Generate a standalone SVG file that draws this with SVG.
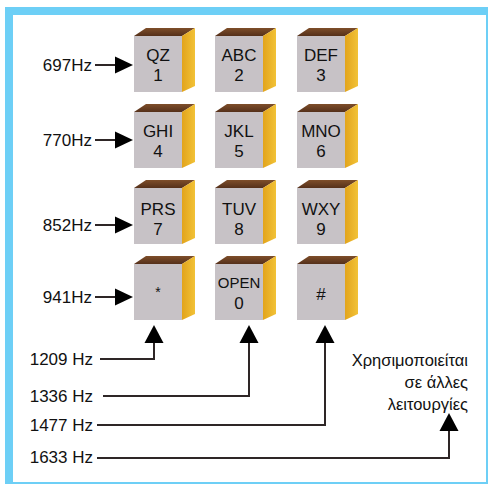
<svg xmlns="http://www.w3.org/2000/svg" xmlns:xlink="http://www.w3.org/1999/xlink" width="488" height="484" viewBox="0 0 488 484">
<style>
.lbl{font-family:"Liberation Sans",Arial,sans-serif;font-size:17px;fill:#111;text-anchor:end}
.key{font-family:"Liberation Sans",Arial,sans-serif;font-size:17px;fill:#111;text-anchor:middle}
.gr{font-family:"Liberation Sans","DejaVu Sans",Arial,sans-serif;font-size:16.5px;fill:#111;text-anchor:end}
.ln{fill:none;stroke:#2e2626;stroke-width:2}
.ah{fill:#000}
</style>
<defs>
<linearGradient id="side" x1="0" y1="0" x2="1" y2="0">
<stop offset="0" stop-color="#E2A41C"/>
<stop offset="1" stop-color="#F2C237"/>
</linearGradient>
<linearGradient id="top" x1="0" y1="1" x2="0" y2="0">
<stop offset="0" stop-color="#55301A"/>
<stop offset="1" stop-color="#7E4E2A"/>
</linearGradient>
<g id="cube">
<polygon points="0,0 12,-8 61,-8 48,0" fill="url(#top)"/>
<polygon points="48,0 61,-8 61,50 48,56" fill="url(#side)"/>
<rect x="0" y="0" width="48" height="56" fill="#C7C2C6"/>
</g>
<polygon id="ar" points="0,0 -18,-8.5 -18,8.5"/>
<polygon id="au" points="0,0 -9.5,18 9.5,18"/>
</defs>
<rect x="5" y="7" width="483" height="477" fill="#6DCFF6"/>
<rect x="13" y="15" width="473" height="467" fill="#FFFFFF"/>

<g id="key1"><use xlink:href="#cube" x="134" y="36"/><text class="key" x="158" y="61">QZ</text><text class="key" x="158" y="81">1</text></g>
<g id="key2"><use xlink:href="#cube" x="215" y="36"/><text class="key" x="239" y="61">ABC</text><text class="key" x="239" y="81">2</text></g>
<g id="key3"><use xlink:href="#cube" x="297" y="36"/><text class="key" x="321" y="61">DEF</text><text class="key" x="321" y="81">3</text></g>
<g id="key4"><use xlink:href="#cube" x="134" y="112"/><text class="key" x="158" y="137">GHI</text><text class="key" x="158" y="157">4</text></g>
<g id="key5"><use xlink:href="#cube" x="215" y="112"/><text class="key" x="239" y="137">JKL</text><text class="key" x="239" y="157">5</text></g>
<g id="key6"><use xlink:href="#cube" x="297" y="112"/><text class="key" x="321" y="137">MNO</text><text class="key" x="321" y="157">6</text></g>
<g id="key7"><use xlink:href="#cube" x="134" y="188"/><text class="key" x="158" y="215">PRS</text><text class="key" x="158" y="235">7</text></g>
<g id="key8"><use xlink:href="#cube" x="215" y="188"/><text class="key" x="239" y="215">TUV</text><text class="key" x="239" y="235">8</text></g>
<g id="key9"><use xlink:href="#cube" x="297" y="188"/><text class="key" x="321" y="215">WXY</text><text class="key" x="321" y="235">9</text></g>
<g id="keystar"><use xlink:href="#cube" x="134" y="264"/><text class="key" x="158" y="297" style="font-size:14px">*</text></g>
<g id="key0"><use xlink:href="#cube" x="215" y="264"/><text class="key" x="239" y="288" style="font-size:15px">OPEN</text><text class="key" x="239" y="309">0</text></g>
<g id="keyhash"><use xlink:href="#cube" x="297" y="264"/><text class="key" x="321" y="300">#</text></g>

<g id="row-labels">
<text class="lbl" x="92" y="71">697Hz</text>
<text class="lbl" x="92" y="146">770Hz</text>
<text class="lbl" x="92" y="231">852Hz</text>
<text class="lbl" x="92" y="303">941Hz</text>
</g>
<g id="col-labels">
<text class="lbl" x="93" y="365">1209 Hz</text>
<text class="lbl" x="93" y="402">1336 Hz</text>
<text class="lbl" x="93" y="431">1477 Hz</text>
<text class="lbl" x="93" y="463">1633 Hz</text>
</g>
<g id="note">
<text class="gr" x="468" y="366">Χρησιμοποιείται</text>
<text class="gr" x="468" y="388">σε άλλες</text>
<text class="gr" x="468" y="410">λειτουργίες</text>
</g>

<g id="connectors">
<path class="ln" d="M95,65H118M95,140H118M95,225H118M95,297H118"/>
<use xlink:href="#ar" class="ah" x="133" y="65"/>
<use xlink:href="#ar" class="ah" x="133" y="140"/>
<use xlink:href="#ar" class="ah" x="133" y="225"/>
<use xlink:href="#ar" class="ah" x="133" y="297"/>
<path class="ln" d="M100,359H154V340"/>
<path class="ln" d="M103,396H249V340"/>
<path class="ln" d="M97,425H325V340"/>
<path class="ln" d="M97,458H449V428"/>
<use xlink:href="#au" class="ah" x="154" y="325"/>
<use xlink:href="#au" class="ah" x="249" y="325"/>
<use xlink:href="#au" class="ah" x="325" y="325"/>
<use xlink:href="#au" class="ah" x="449" y="413"/>
</g>
</svg>
